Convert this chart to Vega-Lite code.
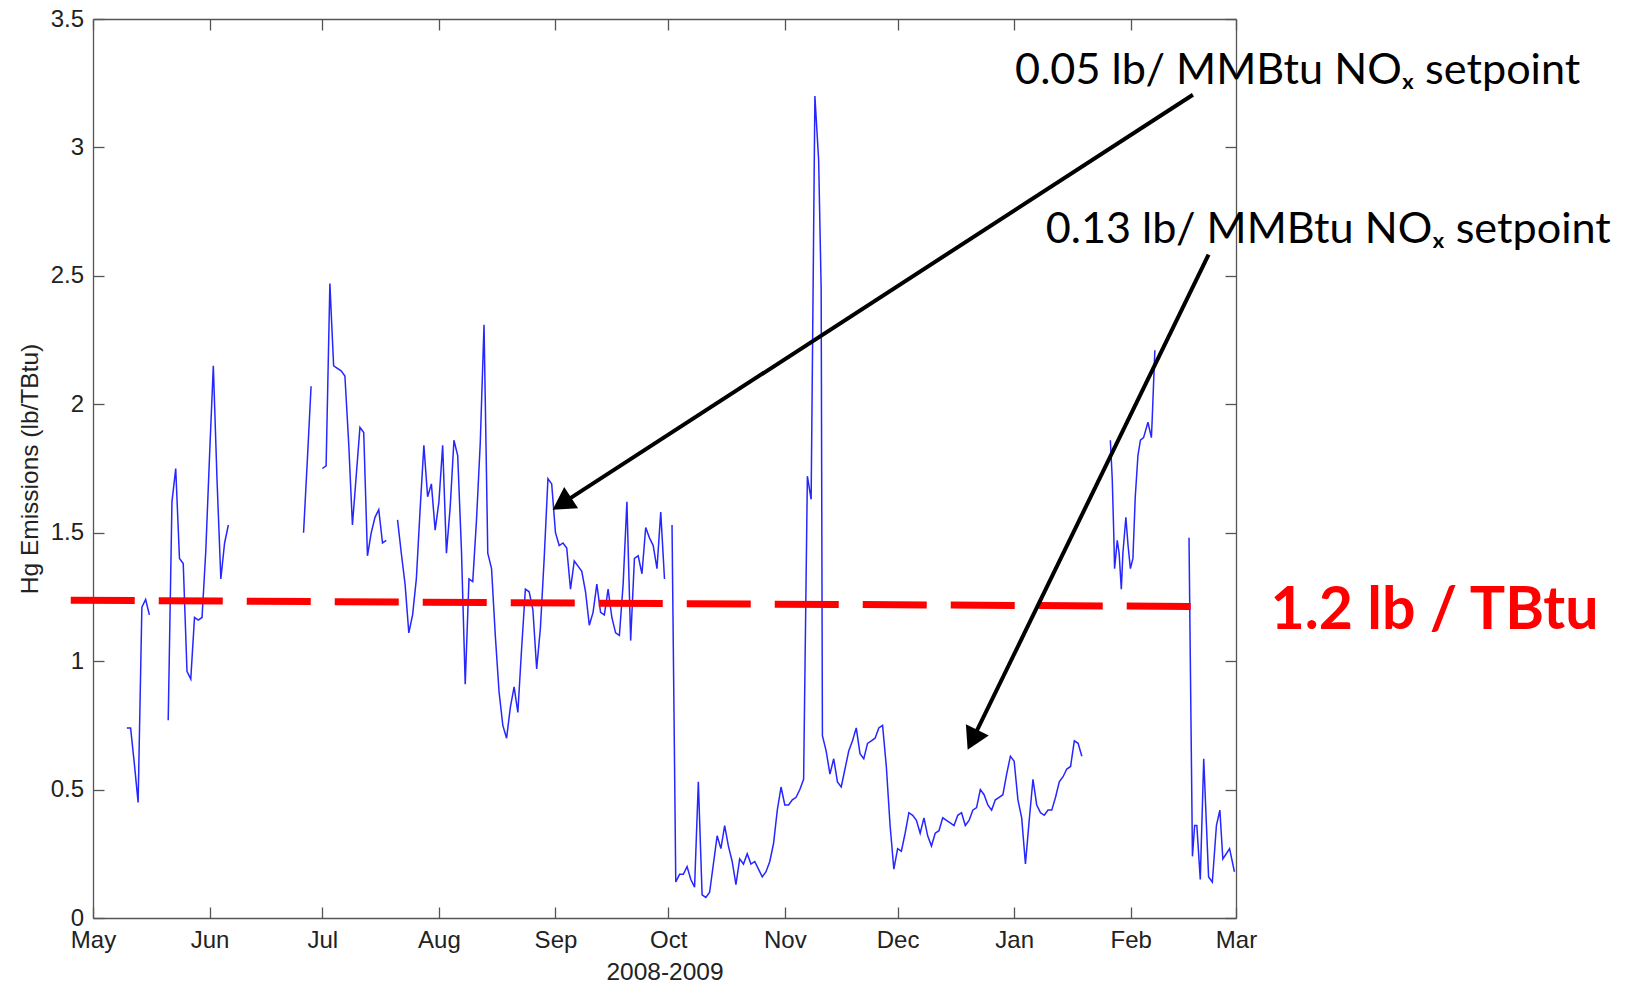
{
  "$schema": "https://vega.github.io/schema/vega-lite/v6.json",
  "width": 1143,
  "height": 899,
  "autosize": {"type": "none"},
  "padding": {"left": 93, "top": 19, "right": 389, "bottom": 67},
  "background": "white",
  "config": {
    "view": {"stroke": null},
    "axis": {
      "grid": false,
      "domainColor": "#555555",
      "tickColor": "#555555",
      "domainWidth": 1.3,
      "tickWidth": 1.3,
      "tickSize": -11,
      "labelFont": "Liberation Sans",
      "labelFontSize": 24,
      "labelColor": "#222222",
      "titleFont": "Liberation Sans",
      "titleFontSize": 24.5,
      "titleFontWeight": "normal",
      "titleColor": "#222222",
      "labelFlush": false,
      "labelOverlap": false,
      "labelBound": false
    }
  },
  "datasets": {
    "hg": [
      {"date": "2008-05-10", "hg": 0.74, "seg": "a"},
      {"date": "2008-05-11", "hg": 0.74, "seg": "a"},
      {"date": "2008-05-12", "hg": 0.60, "seg": "a"},
      {"date": "2008-05-13", "hg": 0.45, "seg": "a"},
      {"date": "2008-05-14", "hg": 1.21, "seg": "a"},
      {"date": "2008-05-15", "hg": 1.24, "seg": "a"},
      {"date": "2008-05-16", "hg": 1.18, "seg": "a"},
      {"date": "2008-05-21", "hg": 0.77, "seg": "b"},
      {"date": "2008-05-22", "hg": 1.62, "seg": "b"},
      {"date": "2008-05-23", "hg": 1.75, "seg": "b"},
      {"date": "2008-05-24", "hg": 1.40, "seg": "b"},
      {"date": "2008-05-25", "hg": 1.38, "seg": "b"},
      {"date": "2008-05-26", "hg": 0.96, "seg": "b"},
      {"date": "2008-05-27", "hg": 0.93, "seg": "b"},
      {"date": "2008-05-28", "hg": 1.17, "seg": "b"},
      {"date": "2008-05-29", "hg": 1.16, "seg": "b"},
      {"date": "2008-05-30", "hg": 1.17, "seg": "b"},
      {"date": "2008-05-31", "hg": 1.43, "seg": "b"},
      {"date": "2008-06-01", "hg": 1.80, "seg": "b"},
      {"date": "2008-06-02", "hg": 2.15, "seg": "b"},
      {"date": "2008-06-03", "hg": 1.70, "seg": "b"},
      {"date": "2008-06-04", "hg": 1.32, "seg": "b"},
      {"date": "2008-06-05", "hg": 1.46, "seg": "b"},
      {"date": "2008-06-06", "hg": 1.53, "seg": "b"},
      {"date": "2008-06-26", "hg": 1.50, "seg": "c"},
      {"date": "2008-06-27", "hg": 1.78, "seg": "c"},
      {"date": "2008-06-28", "hg": 2.07, "seg": "c"},
      {"date": "2008-07-01", "hg": 1.75, "seg": "d"},
      {"date": "2008-07-02", "hg": 1.76, "seg": "d"},
      {"date": "2008-07-03", "hg": 2.47, "seg": "d"},
      {"date": "2008-07-04", "hg": 2.15, "seg": "d"},
      {"date": "2008-07-05", "hg": 2.14, "seg": "d"},
      {"date": "2008-07-06", "hg": 2.13, "seg": "d"},
      {"date": "2008-07-07", "hg": 2.11, "seg": "d"},
      {"date": "2008-07-08", "hg": 1.85, "seg": "d"},
      {"date": "2008-07-09", "hg": 1.53, "seg": "d"},
      {"date": "2008-07-10", "hg": 1.72, "seg": "d"},
      {"date": "2008-07-11", "hg": 1.91, "seg": "d"},
      {"date": "2008-07-12", "hg": 1.89, "seg": "d"},
      {"date": "2008-07-13", "hg": 1.41, "seg": "d"},
      {"date": "2008-07-14", "hg": 1.50, "seg": "d"},
      {"date": "2008-07-15", "hg": 1.56, "seg": "d"},
      {"date": "2008-07-16", "hg": 1.59, "seg": "d"},
      {"date": "2008-07-17", "hg": 1.46, "seg": "d"},
      {"date": "2008-07-18", "hg": 1.47, "seg": "d"},
      {"date": "2008-07-21", "hg": 1.55, "seg": "e"},
      {"date": "2008-07-22", "hg": 1.42, "seg": "e"},
      {"date": "2008-07-23", "hg": 1.30, "seg": "e"},
      {"date": "2008-07-24", "hg": 1.11, "seg": "e"},
      {"date": "2008-07-25", "hg": 1.18, "seg": "e"},
      {"date": "2008-07-26", "hg": 1.32, "seg": "e"},
      {"date": "2008-07-27", "hg": 1.59, "seg": "e"},
      {"date": "2008-07-28", "hg": 1.84, "seg": "e"},
      {"date": "2008-07-29", "hg": 1.64, "seg": "e"},
      {"date": "2008-07-30", "hg": 1.69, "seg": "e"},
      {"date": "2008-07-31", "hg": 1.51, "seg": "e"},
      {"date": "2008-08-01", "hg": 1.62, "seg": "e"},
      {"date": "2008-08-02", "hg": 1.84, "seg": "e"},
      {"date": "2008-08-03", "hg": 1.42, "seg": "e"},
      {"date": "2008-08-04", "hg": 1.60, "seg": "e"},
      {"date": "2008-08-05", "hg": 1.86, "seg": "e"},
      {"date": "2008-08-06", "hg": 1.80, "seg": "e"},
      {"date": "2008-08-07", "hg": 1.43, "seg": "e"},
      {"date": "2008-08-08", "hg": 0.91, "seg": "e"},
      {"date": "2008-08-09", "hg": 1.32, "seg": "e"},
      {"date": "2008-08-10", "hg": 1.31, "seg": "e"},
      {"date": "2008-08-11", "hg": 1.55, "seg": "e"},
      {"date": "2008-08-12", "hg": 1.85, "seg": "e"},
      {"date": "2008-08-13", "hg": 2.31, "seg": "e"},
      {"date": "2008-08-14", "hg": 1.42, "seg": "e"},
      {"date": "2008-08-15", "hg": 1.36, "seg": "e"},
      {"date": "2008-08-16", "hg": 1.10, "seg": "e"},
      {"date": "2008-08-17", "hg": 0.88, "seg": "e"},
      {"date": "2008-08-18", "hg": 0.75, "seg": "e"},
      {"date": "2008-08-19", "hg": 0.70, "seg": "e"},
      {"date": "2008-08-20", "hg": 0.82, "seg": "e"},
      {"date": "2008-08-21", "hg": 0.90, "seg": "e"},
      {"date": "2008-08-22", "hg": 0.80, "seg": "e"},
      {"date": "2008-08-23", "hg": 1.05, "seg": "e"},
      {"date": "2008-08-24", "hg": 1.28, "seg": "e"},
      {"date": "2008-08-25", "hg": 1.27, "seg": "e"},
      {"date": "2008-08-26", "hg": 1.20, "seg": "e"},
      {"date": "2008-08-27", "hg": 0.97, "seg": "e"},
      {"date": "2008-08-28", "hg": 1.13, "seg": "e"},
      {"date": "2008-08-29", "hg": 1.40, "seg": "e"},
      {"date": "2008-08-30", "hg": 1.71, "seg": "e"},
      {"date": "2008-08-31", "hg": 1.69, "seg": "e"},
      {"date": "2008-09-01", "hg": 1.50, "seg": "e"},
      {"date": "2008-09-02", "hg": 1.45, "seg": "e"},
      {"date": "2008-09-03", "hg": 1.46, "seg": "e"},
      {"date": "2008-09-04", "hg": 1.44, "seg": "e"},
      {"date": "2008-09-05", "hg": 1.28, "seg": "e"},
      {"date": "2008-09-06", "hg": 1.39, "seg": "e"},
      {"date": "2008-09-07", "hg": 1.37, "seg": "e"},
      {"date": "2008-09-08", "hg": 1.35, "seg": "e"},
      {"date": "2008-09-09", "hg": 1.27, "seg": "e"},
      {"date": "2008-09-10", "hg": 1.14, "seg": "e"},
      {"date": "2008-09-11", "hg": 1.19, "seg": "e"},
      {"date": "2008-09-12", "hg": 1.30, "seg": "e"},
      {"date": "2008-09-13", "hg": 1.19, "seg": "e"},
      {"date": "2008-09-14", "hg": 1.18, "seg": "e"},
      {"date": "2008-09-15", "hg": 1.28, "seg": "e"},
      {"date": "2008-09-16", "hg": 1.17, "seg": "e"},
      {"date": "2008-09-17", "hg": 1.11, "seg": "e"},
      {"date": "2008-09-18", "hg": 1.10, "seg": "e"},
      {"date": "2008-09-19", "hg": 1.30, "seg": "e"},
      {"date": "2008-09-20", "hg": 1.62, "seg": "e"},
      {"date": "2008-09-21", "hg": 1.08, "seg": "e"},
      {"date": "2008-09-22", "hg": 1.40, "seg": "e"},
      {"date": "2008-09-23", "hg": 1.41, "seg": "e"},
      {"date": "2008-09-24", "hg": 1.34, "seg": "e"},
      {"date": "2008-09-25", "hg": 1.52, "seg": "e"},
      {"date": "2008-09-26", "hg": 1.48, "seg": "e"},
      {"date": "2008-09-27", "hg": 1.45, "seg": "e"},
      {"date": "2008-09-28", "hg": 1.36, "seg": "e"},
      {"date": "2008-09-29", "hg": 1.58, "seg": "e"},
      {"date": "2008-09-30", "hg": 1.32, "seg": "e"},
      {"date": "2008-10-02", "hg": 1.53, "seg": "f"},
      {"date": "2008-10-03", "hg": 0.14, "seg": "f"},
      {"date": "2008-10-04", "hg": 0.17, "seg": "f"},
      {"date": "2008-10-05", "hg": 0.17, "seg": "f"},
      {"date": "2008-10-06", "hg": 0.20, "seg": "f"},
      {"date": "2008-10-07", "hg": 0.15, "seg": "f"},
      {"date": "2008-10-08", "hg": 0.12, "seg": "f"},
      {"date": "2008-10-09", "hg": 0.53, "seg": "f"},
      {"date": "2008-10-10", "hg": 0.09, "seg": "f"},
      {"date": "2008-10-11", "hg": 0.08, "seg": "f"},
      {"date": "2008-10-12", "hg": 0.10, "seg": "f"},
      {"date": "2008-10-13", "hg": 0.21, "seg": "f"},
      {"date": "2008-10-14", "hg": 0.32, "seg": "f"},
      {"date": "2008-10-15", "hg": 0.27, "seg": "f"},
      {"date": "2008-10-16", "hg": 0.36, "seg": "f"},
      {"date": "2008-10-17", "hg": 0.28, "seg": "f"},
      {"date": "2008-10-18", "hg": 0.22, "seg": "f"},
      {"date": "2008-10-19", "hg": 0.13, "seg": "f"},
      {"date": "2008-10-20", "hg": 0.23, "seg": "f"},
      {"date": "2008-10-21", "hg": 0.21, "seg": "f"},
      {"date": "2008-10-22", "hg": 0.25, "seg": "f"},
      {"date": "2008-10-23", "hg": 0.21, "seg": "f"},
      {"date": "2008-10-24", "hg": 0.22, "seg": "f"},
      {"date": "2008-10-25", "hg": 0.19, "seg": "f"},
      {"date": "2008-10-26", "hg": 0.16, "seg": "f"},
      {"date": "2008-10-27", "hg": 0.18, "seg": "f"},
      {"date": "2008-10-28", "hg": 0.22, "seg": "f"},
      {"date": "2008-10-29", "hg": 0.29, "seg": "f"},
      {"date": "2008-10-30", "hg": 0.42, "seg": "f"},
      {"date": "2008-10-31", "hg": 0.51, "seg": "f"},
      {"date": "2008-11-01", "hg": 0.44, "seg": "f"},
      {"date": "2008-11-02", "hg": 0.44, "seg": "f"},
      {"date": "2008-11-03", "hg": 0.46, "seg": "f"},
      {"date": "2008-11-04", "hg": 0.47, "seg": "f"},
      {"date": "2008-11-05", "hg": 0.50, "seg": "f"},
      {"date": "2008-11-06", "hg": 0.54, "seg": "f"},
      {"date": "2008-11-07", "hg": 1.72, "seg": "f"},
      {"date": "2008-11-08", "hg": 1.63, "seg": "f"},
      {"date": "2008-11-09", "hg": 3.20, "seg": "f"},
      {"date": "2008-11-10", "hg": 2.95, "seg": "f"},
      {"date": "2008-11-10T16:00:00Z", "hg": 2.45, "seg": "f"},
      {"date": "2008-11-11", "hg": 0.71, "seg": "f"},
      {"date": "2008-11-12", "hg": 0.65, "seg": "f"},
      {"date": "2008-11-13", "hg": 0.56, "seg": "f"},
      {"date": "2008-11-14", "hg": 0.62, "seg": "f"},
      {"date": "2008-11-15", "hg": 0.53, "seg": "f"},
      {"date": "2008-11-16", "hg": 0.51, "seg": "f"},
      {"date": "2008-11-17", "hg": 0.58, "seg": "f"},
      {"date": "2008-11-18", "hg": 0.65, "seg": "f"},
      {"date": "2008-11-19", "hg": 0.69, "seg": "f"},
      {"date": "2008-11-20", "hg": 0.74, "seg": "f"},
      {"date": "2008-11-21", "hg": 0.64, "seg": "f"},
      {"date": "2008-11-22", "hg": 0.62, "seg": "f"},
      {"date": "2008-11-23", "hg": 0.68, "seg": "f"},
      {"date": "2008-11-24", "hg": 0.69, "seg": "f"},
      {"date": "2008-11-25", "hg": 0.70, "seg": "f"},
      {"date": "2008-11-26", "hg": 0.74, "seg": "f"},
      {"date": "2008-11-27", "hg": 0.75, "seg": "f"},
      {"date": "2008-11-28", "hg": 0.59, "seg": "f"},
      {"date": "2008-11-29", "hg": 0.36, "seg": "f"},
      {"date": "2008-11-30", "hg": 0.19, "seg": "f"},
      {"date": "2008-12-01", "hg": 0.27, "seg": "f"},
      {"date": "2008-12-02", "hg": 0.26, "seg": "f"},
      {"date": "2008-12-03", "hg": 0.33, "seg": "f"},
      {"date": "2008-12-04", "hg": 0.41, "seg": "f"},
      {"date": "2008-12-05", "hg": 0.40, "seg": "f"},
      {"date": "2008-12-06", "hg": 0.38, "seg": "f"},
      {"date": "2008-12-07", "hg": 0.33, "seg": "f"},
      {"date": "2008-12-08", "hg": 0.39, "seg": "f"},
      {"date": "2008-12-09", "hg": 0.32, "seg": "f"},
      {"date": "2008-12-10", "hg": 0.28, "seg": "f"},
      {"date": "2008-12-11", "hg": 0.33, "seg": "f"},
      {"date": "2008-12-12", "hg": 0.34, "seg": "f"},
      {"date": "2008-12-13", "hg": 0.39, "seg": "f"},
      {"date": "2008-12-14", "hg": 0.38, "seg": "f"},
      {"date": "2008-12-15", "hg": 0.37, "seg": "f"},
      {"date": "2008-12-16", "hg": 0.36, "seg": "f"},
      {"date": "2008-12-17", "hg": 0.40, "seg": "f"},
      {"date": "2008-12-18", "hg": 0.41, "seg": "f"},
      {"date": "2008-12-19", "hg": 0.36, "seg": "f"},
      {"date": "2008-12-20", "hg": 0.38, "seg": "f"},
      {"date": "2008-12-21", "hg": 0.42, "seg": "f"},
      {"date": "2008-12-22", "hg": 0.43, "seg": "f"},
      {"date": "2008-12-23", "hg": 0.50, "seg": "f"},
      {"date": "2008-12-24", "hg": 0.48, "seg": "f"},
      {"date": "2008-12-25", "hg": 0.44, "seg": "f"},
      {"date": "2008-12-26", "hg": 0.42, "seg": "f"},
      {"date": "2008-12-27", "hg": 0.46, "seg": "f"},
      {"date": "2008-12-28", "hg": 0.47, "seg": "f"},
      {"date": "2008-12-29", "hg": 0.48, "seg": "f"},
      {"date": "2008-12-30", "hg": 0.56, "seg": "f"},
      {"date": "2008-12-31", "hg": 0.63, "seg": "f"},
      {"date": "2009-01-01", "hg": 0.61, "seg": "f"},
      {"date": "2009-01-02", "hg": 0.46, "seg": "f"},
      {"date": "2009-01-03", "hg": 0.39, "seg": "f"},
      {"date": "2009-01-04", "hg": 0.21, "seg": "f"},
      {"date": "2009-01-05", "hg": 0.38, "seg": "f"},
      {"date": "2009-01-06", "hg": 0.54, "seg": "f"},
      {"date": "2009-01-07", "hg": 0.44, "seg": "f"},
      {"date": "2009-01-08", "hg": 0.41, "seg": "f"},
      {"date": "2009-01-09", "hg": 0.40, "seg": "f"},
      {"date": "2009-01-10", "hg": 0.42, "seg": "f"},
      {"date": "2009-01-11", "hg": 0.42, "seg": "f"},
      {"date": "2009-01-12", "hg": 0.47, "seg": "f"},
      {"date": "2009-01-13", "hg": 0.53, "seg": "f"},
      {"date": "2009-01-14", "hg": 0.55, "seg": "f"},
      {"date": "2009-01-15", "hg": 0.58, "seg": "f"},
      {"date": "2009-01-16", "hg": 0.59, "seg": "f"},
      {"date": "2009-01-17", "hg": 0.69, "seg": "f"},
      {"date": "2009-01-18", "hg": 0.68, "seg": "f"},
      {"date": "2009-01-19", "hg": 0.63, "seg": "f"},
      {"date": "2009-01-26T14:00:00Z", "hg": 1.86, "seg": "g"},
      {"date": "2009-01-27T02:00:00Z", "hg": 1.71, "seg": "g"},
      {"date": "2009-01-27T12:00:00Z", "hg": 1.49, "seg": "g"},
      {"date": "2009-01-27T17:00:00Z", "hg": 1.36, "seg": "g"},
      {"date": "2009-01-28T10:00:00Z", "hg": 1.47, "seg": "g"},
      {"date": "2009-01-28T22:00:00Z", "hg": 1.42, "seg": "g"},
      {"date": "2009-01-29T12:00:00Z", "hg": 1.28, "seg": "g"},
      {"date": "2009-01-29T22:00:00Z", "hg": 1.42, "seg": "g"},
      {"date": "2009-01-30T17:00:00Z", "hg": 1.56, "seg": "g"},
      {"date": "2009-01-31T07:00:00Z", "hg": 1.45, "seg": "g"},
      {"date": "2009-01-31T22:00:00Z", "hg": 1.36, "seg": "g"},
      {"date": "2009-02-01T14:00:00Z", "hg": 1.40, "seg": "g"},
      {"date": "2009-02-02T05:00:00Z", "hg": 1.64, "seg": "g"},
      {"date": "2009-02-02T22:00:00Z", "hg": 1.80, "seg": "g"},
      {"date": "2009-02-03T14:00:00Z", "hg": 1.86, "seg": "g"},
      {"date": "2009-02-04T10:00:00Z", "hg": 1.87, "seg": "g"},
      {"date": "2009-02-05T14:00:00Z", "hg": 1.93, "seg": "g"},
      {"date": "2009-02-06T12:00:00Z", "hg": 1.87, "seg": "g"},
      {"date": "2009-02-06T17:00:00Z", "hg": 1.94, "seg": "g"},
      {"date": "2009-02-07T10:00:00Z", "hg": 2.21, "seg": "g"},
      {"date": "2009-02-16T12:00:00Z", "hg": 1.48, "seg": "h"},
      {"date": "2009-02-17T10:00:00Z", "hg": 0.24, "seg": "h"},
      {"date": "2009-02-18T00:00:00Z", "hg": 0.36, "seg": "h"},
      {"date": "2009-02-18T14:00:00Z", "hg": 0.36, "seg": "h"},
      {"date": "2009-02-19T12:00:00Z", "hg": 0.15, "seg": "h"},
      {"date": "2009-02-20T10:00:00Z", "hg": 0.62, "seg": "h"},
      {"date": "2009-02-21T02:00:00Z", "hg": 0.38, "seg": "h"},
      {"date": "2009-02-21T17:00:00Z", "hg": 0.16, "seg": "h"},
      {"date": "2009-02-22T17:00:00Z", "hg": 0.14, "seg": "h"},
      {"date": "2009-02-23T19:00:00Z", "hg": 0.36, "seg": "h"},
      {"date": "2009-02-24T17:00:00Z", "hg": 0.42, "seg": "h"},
      {"date": "2009-02-25T12:00:00Z", "hg": 0.23, "seg": "h"},
      {"date": "2009-02-26T10:00:00Z", "hg": 0.25, "seg": "h"},
      {"date": "2009-02-27T07:00:00Z", "hg": 0.27, "seg": "h"},
      {"date": "2009-02-28T14:00:00Z", "hg": 0.18, "seg": "h"}
    ]
  },
  "resolve": {"axis": {"x": "independent", "y": "independent"}},
  "layer": [
    {
      "data": {"name": "hg"},
      "mark": {"type": "line", "color": "#2626ff", "strokeWidth": 1.5},
      "encoding": {
        "x": {
          "field": "date", "type": "temporal",
          "scale": {"type": "utc", "domain": [{"year": 2008, "month": 5, "date": 1, "utc": true}, {"year": 2009, "month": 3, "date": 1, "utc": true}]},
          "axis": {
            "orient": "bottom",
            "title": "2008-2009",
            "labelPadding": 21,
            "titlePadding": 8,
            "labelExpr": "utcFormat(datum.value, '%b')",
            "values": [
              {"year": 2008, "month": 5, "date": 1, "utc": true},
              {"year": 2008, "month": 6, "date": 1, "utc": true},
              {"year": 2008, "month": 7, "date": 1, "utc": true},
              {"year": 2008, "month": 8, "date": 1, "utc": true},
              {"year": 2008, "month": 9, "date": 1, "utc": true},
              {"year": 2008, "month": 10, "date": 1, "utc": true},
              {"year": 2008, "month": 11, "date": 1, "utc": true},
              {"year": 2008, "month": 12, "date": 1, "utc": true},
              {"year": 2009, "month": 1, "date": 1, "utc": true},
              {"year": 2009, "month": 2, "date": 1, "utc": true},
              {"year": 2009, "month": 3, "date": 1, "utc": true}
            ]
          }
        },
        "y": {
          "field": "hg", "type": "quantitative",
          "scale": {"domain": [0, 3.5]},
          "axis": {
            "orient": "left",
            "title": "Hg Emissions (lb/TBtu)",
            "values": [0, 0.5, 1, 1.5, 2, 2.5, 3, 3.5],
            "format": "~g",
            "labelPadding": 20.4,
            "titlePadding": 8
          }
        },
        "detail": {"field": "seg", "type": "nominal"}
      }
    },
    {
      "data": {"name": "hg"},
      "mark": {"type": "point", "opacity": 0},
      "encoding": {
        "x": {
          "field": "date", "type": "temporal",
          "scale": {"type": "utc", "domain": [{"year": 2008, "month": 5, "date": 1, "utc": true}, {"year": 2009, "month": 3, "date": 1, "utc": true}]},
          "axis": {
            "orient": "top",
            "title": null,
            "labels": false,
            "values": [
              {"year": 2008, "month": 5, "date": 1, "utc": true},
              {"year": 2008, "month": 6, "date": 1, "utc": true},
              {"year": 2008, "month": 7, "date": 1, "utc": true},
              {"year": 2008, "month": 8, "date": 1, "utc": true},
              {"year": 2008, "month": 9, "date": 1, "utc": true},
              {"year": 2008, "month": 10, "date": 1, "utc": true},
              {"year": 2008, "month": 11, "date": 1, "utc": true},
              {"year": 2008, "month": 12, "date": 1, "utc": true},
              {"year": 2009, "month": 1, "date": 1, "utc": true},
              {"year": 2009, "month": 2, "date": 1, "utc": true},
              {"year": 2009, "month": 3, "date": 1, "utc": true}
            ]
          }
        },
        "y": {
          "field": "hg", "type": "quantitative",
          "scale": {"domain": [0, 3.5]},
          "axis": {"orient": "right", "title": null, "labels": false, "values": [0, 0.5, 1, 1.5, 2, 2.5, 3, 3.5]}
        }
      }
    },
    {
      "data": {"values": [{"x": "2008-04-25T02:00:00Z", "y": 1.237, "x2": "2009-02-17T13:00:00Z", "y2": 1.213}], "format": {"parse": {"x": "date", "x2": "date"}}},
      "mark": {"type": "rule", "color": "#ff0000", "strokeWidth": 7, "strokeDash": [64, 24], "strokeCap": "butt", "clip": false},
      "encoding": {
        "x": {"field": "x", "type": "temporal", "scale": {"type": "utc", "domain": [{"year": 2008, "month": 5, "date": 1, "utc": true}, {"year": 2009, "month": 3, "date": 1, "utc": true}]}, "axis": null},
        "x2": {"field": "x2"},
        "y": {"field": "y", "type": "quantitative", "scale": {"domain": [0, 3.5]}, "axis": null},
        "y2": {"field": "y2"}
      }
    },
    {
      "data": {"values": [
        {"x": "2009-02-17T13:00:00Z", "y": 3.205, "x2": "2008-09-02T17:00:00Z", "y2": 1.613},
        {"x": "2009-02-21T17:00:00Z", "y": 2.583, "x2": "2008-12-20T22:00:00Z", "y2": 0.694}
      ], "format": {"parse": {"x": "date", "x2": "date"}}},
      "mark": {"type": "rule", "color": "#000000", "strokeWidth": 4, "clip": false},
      "encoding": {
        "x": {"field": "x", "type": "temporal", "scale": {"type": "utc", "domain": [{"year": 2008, "month": 5, "date": 1, "utc": true}, {"year": 2009, "month": 3, "date": 1, "utc": true}]}, "axis": null},
        "x2": {"field": "x2"},
        "y": {"field": "y", "type": "quantitative", "scale": {"domain": [0, 3.5]}, "axis": null},
        "y2": {"field": "y2"}
      }
    },
    {
      "data": {"values": [{"x": "2008-09-02T17:00:00Z", "y": 1.613}], "format": {"parse": {"x": "date"}}},
      "mark": {"type": "point", "shape": "triangle-up", "filled": true, "color": "#000000", "size": 650, "angle": 237, "opacity": 1, "clip": false},
      "encoding": {
        "x": {"field": "x", "type": "temporal", "scale": {"type": "utc", "domain": [{"year": 2008, "month": 5, "date": 1, "utc": true}, {"year": 2009, "month": 3, "date": 1, "utc": true}]}, "axis": null},
        "y": {"field": "y", "type": "quantitative", "scale": {"domain": [0, 3.5]}, "axis": null}
      }
    },
    {
      "data": {"values": [{"x": "2008-12-20T22:00:00Z", "y": 0.694}], "format": {"parse": {"x": "date"}}},
      "mark": {"type": "point", "shape": "triangle-up", "filled": true, "color": "#000000", "size": 650, "angle": 206, "opacity": 1, "clip": false},
      "encoding": {
        "x": {"field": "x", "type": "temporal", "scale": {"type": "utc", "domain": [{"year": 2008, "month": 5, "date": 1, "utc": true}, {"year": 2009, "month": 3, "date": 1, "utc": true}]}, "axis": null},
        "y": {"field": "y", "type": "quantitative", "scale": {"domain": [0, 3.5]}, "axis": null}
      }
    },
    {
      "data": {"values": [
        {"x": "2009-01-01T06:00:00Z", "y": 3.248, "label": "0.05 lb/ MMBtu NOₓ setpoint"},
        {"x": "2009-01-09T09:00:00Z", "y": 2.627, "label": "0.13 lb/ MMBtu NOₓ setpoint"}
      ], "format": {"parse": {"x": "date"}}},
      "mark": {"type": "text", "align": "left", "baseline": "alphabetic", "font": "Lato", "fontSize": 43.2, "color": "#000000", "clip": false},
      "encoding": {
        "x": {"field": "x", "type": "temporal", "scale": {"type": "utc", "domain": [{"year": 2008, "month": 5, "date": 1, "utc": true}, {"year": 2009, "month": 3, "date": 1, "utc": true}]}, "axis": null},
        "y": {"field": "y", "type": "quantitative", "scale": {"domain": [0, 3.5]}, "axis": null},
        "text": {"field": "label"}
      }
    },
    {
      "data": {"values": [{"x": "2009-03-10T04:00:00Z", "y": 1.125, "label": "1.2 lb / TBtu"}], "format": {"parse": {"x": "date"}}},
      "mark": {"type": "text", "align": "left", "baseline": "alphabetic", "font": "Lato", "fontWeight": "bold", "fontSize": 59, "color": "#ff0000", "clip": false},
      "encoding": {
        "x": {"field": "x", "type": "temporal", "scale": {"type": "utc", "domain": [{"year": 2008, "month": 5, "date": 1, "utc": true}, {"year": 2009, "month": 3, "date": 1, "utc": true}]}, "axis": null},
        "y": {"field": "y", "type": "quantitative", "scale": {"domain": [0, 3.5]}, "axis": null},
        "text": {"field": "label"}
      }
    }
  ]
}
